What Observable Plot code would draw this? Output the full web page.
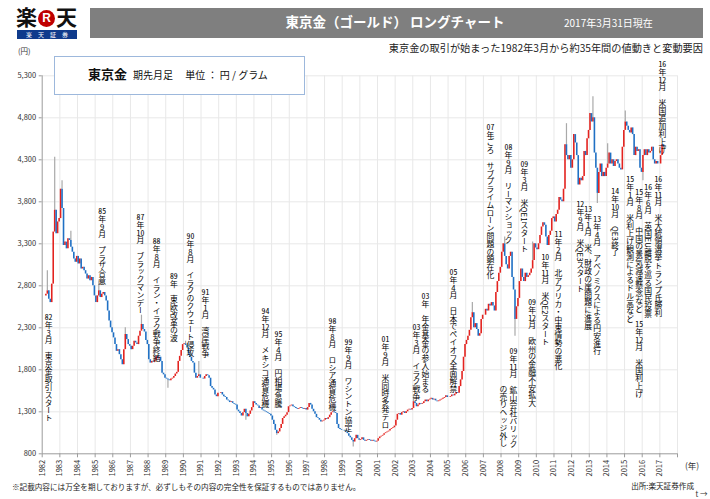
<!DOCTYPE html>
<html><head><meta charset="utf-8">
<script src="https://cdn.jsdelivr.net/npm/d3@7"></script>
<script src="https://cdn.jsdelivr.net/npm/@observablehq/plot@0.6"></script>
<style>
html,body{margin:0;background:#fff;overflow:hidden;font-family:"Noto Sans CJK JP","Noto Sans",sans-serif;}
#wrap{position:relative;width:710px;height:499px;overflow:hidden;background:#fff;}
#wrap svg{position:absolute;left:0;top:0;}
.abs{position:absolute;white-space:nowrap;line-height:1;}
.ann{position:absolute;writing-mode:vertical-rl;text-orientation:mixed;font-size:7.8px;line-height:8px;width:8px;color:#000;white-space:nowrap;}
.tcy{text-combine-upright:all;}
</style></head>
<body><div id="wrap"></div>
<script>
// ---- data ----
const startYear = 1982, startMonth = 3;
const firstOpen = 2680;
// monthly closes (yen / gram), 1982-03 .. 2017-03
const closes = [
  2700, 2740, 2640, 2600, 2820, 3440, 3700, 3420, 3560, 3600,             // 1982 (Mar-Dec)
  3950, 3720, 3280, 3320, 3240, 3360, 3340, 3260, 3200, 3120, 3080, 3150, // 1983
  3060, 3120, 3000, 3020, 2980, 2940, 2880, 2920, 2860, 2900, 2800, 2680, // 1984
  2600, 2680, 2740, 2660, 2700, 2720, 2680, 2620, 2500, 2380, 2300, 2240, // 1985
  2180, 2100, 2020, 2040, 1980, 1920, 1860, 2040, 2220, 2160, 2100, 2080, // 1986
  2040, 2080, 2140, 2120, 2100, 2200, 2260, 2340, 2280, 2250, 2150, 2100, // 1987
  1920, 1880, 1900, 1890, 1910, 1960, 1930, 1950, 1900, 1760, 1740, 1700, // 1988
  1690, 1680, 1670, 1690, 1700, 1720, 1750, 1770, 1900, 1960, 2030, 2100, // 1989
  2110, 2090, 2060, 1990, 1950, 1900, 1880, 1760, 1700, 1720, 1740, 1700, // 1990
  1700, 1690, 1720, 1740, 1730, 1700, 1600, 1580, 1560, 1500, 1480, 1520, // 1991
  1520, 1530, 1500, 1480, 1470, 1440, 1430, 1410, 1420, 1400, 1390, 1380, // 1992
  1320, 1300, 1280, 1250, 1290, 1330, 1280, 1240, 1270, 1310, 1350, 1420, // 1993
  1400, 1380, 1370, 1340, 1350, 1320, 1310, 1300, 1290, 1280, 1270, 1250, // 1994
  1200, 1150, 1080, 1040, 1060, 1100, 1150, 1220, 1240, 1260, 1290, 1360, // 1995
  1370, 1380, 1360, 1350, 1340, 1330, 1340, 1350, 1340, 1330, 1340, 1320, // 1996
  1350, 1400, 1380, 1330, 1300, 1270, 1230, 1220, 1200, 1180, 1190, 1200, // 1997
  1220, 1210, 1230, 1260, 1290, 1300, 1290, 1280, 1150, 1100, 1090, 1080, // 1998
  1080, 1070, 1060, 1040, 1010,  990,  960,  940,  980, 1020,  980,  960, // 1999
   970,  990,  960,  950,  960,  970,  960,  950,  960,  950,  940,  950, // 2000
   980, 1000, 1010, 1020, 1040, 1050, 1060, 1070, 1090, 1100, 1110, 1130, // 2001
  1200, 1270, 1280, 1260, 1290, 1300, 1280, 1300, 1320, 1330, 1320, 1340, // 2002
  1420, 1400, 1360, 1380, 1400, 1390, 1400, 1420, 1440, 1420, 1440, 1450, // 2003
  1460, 1440, 1450, 1430, 1420, 1430, 1440, 1450, 1460, 1470, 1490, 1470, // 2004
  1470, 1480, 1500, 1490, 1510, 1530, 1520, 1600, 1680, 1780, 1950, 2100, // 2005
  2150, 2200, 2270, 2420, 2480, 2300, 2350, 2280, 2200, 2230, 2400, 2450, // 2006
  2450, 2520, 2500, 2580, 2560, 2600, 2560, 2500, 2720, 2850, 2950, 3020, // 2007
  3200, 3300, 3150, 3050, 3000, 3150, 3200, 2900, 2750, 2400, 2550, 2650, // 2008
  2850, 3000, 2900, 2850, 2950, 2900, 2920, 2950, 3000, 3100, 3300, 3250, // 2009
  3230, 3300, 3400, 3500, 3550, 3520, 3380, 3280, 3400, 3450, 3600, 3620, // 2010
  3560, 3650, 3700, 3850, 3820, 3800, 3950, 4480, 4350, 4300, 4350, 4200, // 2011
  4300, 4600, 4500, 4350, 4000, 4080, 4050, 4100, 4400, 4350, 4550, 4650, // 2012
  4850, 4750, 4800, 4380, 4200, 3900, 4150, 4250, 4100, 4150, 4100, 4200, // 2013
  4250, 4380, 4250, 4300, 4220, 4280, 4300, 4250, 4200, 4180, 4450, 4650, // 2014
  4750, 4700, 4650, 4620, 4680, 4600, 4350, 4450, 4400, 4420, 4200, 4150, // 2015
  4350, 4420, 4350, 4420, 4380, 4400, 4450, 4300, 4250, 4280, 4250, 4250, // 2016
  4350, 4480, 4450                                                         // 2017 (Jan-Mar)
];
// notable high / low shadows
const wickYear  = [1982, 1982, 1983, 1983, 1985, 1986, 1987, 1989, 1990, 1990, 1993, 1995, 1999, 2003, 2006, 2008, 2008, 2009, 2011, 2013, 2013, 2014, 2015, 2016];
const wickMonth = [   4,    9,    2,    8,    3,    9,    8,    2,    2,   11,    7,    4,    8,    1,    5,    3,   10,   10,    9,    3,    6,    1,    1,    1];
const wickValue = [2980, 4330, 4050, 3450, 2860, 2300, 2450, 1580, 2140, 1900, 1200, 1020,  880, 1480, 2600, 3380, 2200, 3320, 4730, 5050, 3780, 4490, 4880, 4050];

const yTicks = [800, 1300, 1800, 2300, 2800, 3300, 3800, 4300, 4800, 5300];
const xYears = [1982,1983,1984,1985,1986,1987,1988,1989,1990,1991,1992,1993,1994,1995,1996,1997,1998,1999,2000,2001,2002,2003,2004,2005,2006,2007,2008,2009,2010,2011,2012,2013,2014,2015,2016,2017,2018];

// annotations: position (decimal year, price at top of text) and label
const annT = [1982.36,1985.40,1987.57,1988.48,1989.46,1990.40,1991.25,1994.65,1995.39,1998.45,1999.35,2001.45,2003.21,2003.72,2005.30,2007.40,2008.42,2009.32,2008.70,2008.14,2009.76,2010.51,2011.25,2012.49,2012.94,2013.45,2014.47,2015.32,2015.83,2015.83,2016.34,2016.91,2017.14];
const annP = [2470,3731,3660,3374,2957,3433,2767,2541,2267,2422,2172,2208,2351,2720,3006,4731,4493,4291,2065,1613,2648,3184,3458,3815,3755,3636,3969,4112,3957,2386,4017,4112,5480];
const annDate = ["82年3月","85年9月","87年10月","88年8月","89年","90年8月","91年1月","94年12月","95年4月","98年8月","99年9月","01年9月","03年3月","03年","05年4月","07年ごろ","08年9月","09年3月","09年11月","","09年12月","10年11月","11年2月","12年9月","13年1月","13年4月","14年10月","15年1月","15年8月","15年12月","16年6月","16年11月","16年12月"];
const annText = ["東京金取引スタート","プラザ合意","ブラックマンデー","イラン・イラク戦争終結","東欧改革の波","イラクのクウェート侵攻","湾岸戦争","メキシコ通貨危機","円相場急騰","ロシア通貨危機","ワシントン協定","米同時多発テロ","イラク戦争","年金基金の参入始まる","日本でペイオフ全面解禁","サブプライムローン問題の顕在化","リーマンショック","米QE1スタート","鉱山会社バリック","の売りヘッジ外し","欧州の金融不安拡大","米QE2スタート","北アフリカ・中東情勢の悪化","米QE3スタート","米、財政の崖問題に進展","アベノミクスによる円安進行","QE3終了","米利上げ観測によるドル高など","中国の景気減速懸念など","米国利上げ","英国EU離脱を巡る国民投票","米大統領選挙 トランプ氏勝利","米国追加利上げ"];

const UP = "#e3231f", DOWN = "#1f70c4", WICK = "#a9a9a9";

// ---- derived tables ----
const candles = closes.map((c, i) => {
  const m = startMonth - 1 + i;
  const year = startYear + Math.floor(m / 12), month = (m % 12) + 1;
  const open = i === 0 ? firstOpen : closes[i - 1];
  return {year, month, t: year + (month - 1) / 12 + 1 / 24, open, close: c, color: c >= open ? UP : DOWN};
});
const wicks = wickYear.map((y, i) => {
  const c = candles.find(d => d.year === y && d.month === wickMonth[i]);
  const v = wickValue[i];
  const from = v > Math.max(c.open, c.close) ? Math.max(c.open, c.close) : Math.min(c.open, c.close);
  return {t: c.t, from, to: v};
});

const FONT = '"Noto Sans CJK JP","Noto Sans",sans-serif';
const chart = Plot.plot({
  width: 710, height: 499,
  marginLeft: 41.7, marginRight: 33, marginTop: 75.3, marginBottom: 45.7,
  x: {domain: [1982, 2018], axis: null},
  y: {domain: [800, 5300], axis: null},
  color: {type: "identity"},
  style: {fontFamily: FONT, fontSize: "7.5px", color: "#333", background: "transparent"},
  marks: [
    Plot.gridX(xYears.slice(1), {stroke: "#e8e8e8", strokeOpacity: 1}),
    Plot.gridY(yTicks.slice(1), {stroke: "#e8e8e8", strokeOpacity: 1}),
    Plot.ruleX(wicks, {x: "t", y1: "from", y2: "to", stroke: WICK, strokeWidth: 1.2}),
    Plot.ruleX(candles, {x: "t", y1: "open", y2: "close", stroke: "color", strokeWidth: 1.6}),
    Plot.ruleX([1982], {stroke: "#9c9c9c"}),
    Plot.ruleY([800], {stroke: "#9c9c9c"}),
    Plot.axisY(yTicks, {tickFormat: d3.format(","), tickSize: 3, tickPadding: 3, stroke: "#9c9c9c", fill: "#333"}),
    Plot.axisX(xYears, {tickFormat: d => d < 2018 ? String(d) : "", tickRotate: -90, tickSize: 4, tickPadding: 2, stroke: "#9c9c9c", fill: "#333"})
  ]
});

const wrap = document.getElementById("wrap");
wrap.appendChild(chart);

function add(html, css, cls = "abs") {
  const d = document.createElement("div");
  d.className = cls;
  d.style.cssText = css;
  d.innerHTML = html;
  wrap.appendChild(d);
  return d;
}

// header
add('<span style="font-weight:700">楽</span><span style="display:inline-block;width:17px;height:17px;border-radius:50%;background:#bf0000;color:#fff;font-size:12px;font-weight:700;text-align:center;line-height:17px;vertical-align:3px;margin:0 1px;font-family:Arial,sans-serif">R</span><span style="font-weight:700">天</span>',
  "left:16px;top:6px;font-size:21px;color:#111;");
add('楽　天　証　券', "left:17px;top:30px;width:60px;height:9px;background:#0f3b8c;color:#fff;font-size:6px;line-height:9px;text-align:center;");
add('', "left:90px;top:8px;width:613px;height:30px;background:#7f7f7f;");
add('東京金（ゴールド） ロングチャート', "left:270px;top:15px;width:250px;text-align:center;font-size:13.5px;font-weight:700;color:#fff;");
add('2017年3月31日現在', "left:564px;top:18px;font-size:10px;color:#fff;");
add('東京金の取引が始まった1982年3月から約35年間の値動きと変動要因', "right:7px;top:43px;font-size:10.2px;color:#222;");
add('(円)', "left:18px;top:47px;font-size:7.5px;color:#333;");
add('<span style="font-size:13px;font-weight:700;margin-right:6px">東京金</span><span style="font-size:10px">期先月足　 単位 ： 円 /  グラム</span>',
  "left:54px;top:56px;width:216px;height:23px;padding:7px 0 7px 33px;border:1px solid #9db8dc;background:#fff;color:#111;");
add('(年)', "left:685px;top:461px;font-size:8.5px;color:#333;");
add('※記載内容には万全を期しておりますが、必ずしもその内容の完全性を保証するものではありません。', "left:12px;top:483px;font-size:7.6px;color:#222;");
add('出所:楽天証券作成', "right:16px;top:482px;font-size:7.6px;color:#222;");

// annotations (vertical Japanese text)
const sx = chart.scale("x"), sy = chart.scale("y");
annT.forEach((t, i) => {
  const date = annDate[i].replace(/\d+/g, m => `<span class="tcy">${m}</span>`);
  const html = (annDate[i] ? date + "　" : "") + annText[i];
  add(html, `left:${(sx.apply(t) - 4).toFixed(1)}px;top:${sy.apply(annP[i]).toFixed(1)}px;`, "ann");
});
</script></body></html>
